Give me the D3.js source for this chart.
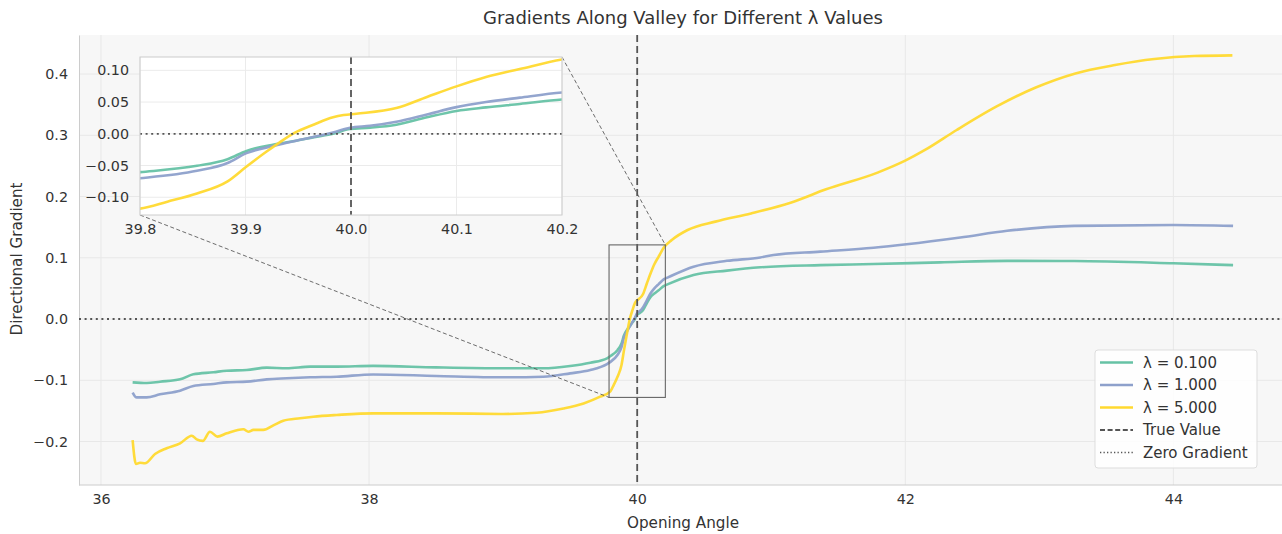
<!DOCTYPE html>
<html><head><meta charset="utf-8">
<script src="https://cdn.jsdelivr.net/npm/d3@7/dist/d3.min.js"></script>
<style>
body{margin:0;background:#fff;}
text{font-family:"DejaVu Sans",sans-serif;fill:#333;}
</style>
</head><body>
<svg id="c" width="1282" height="534"></svg>
<script>
// ---------- data ----------
const angles01 = [36.236,36.341,36.44,36.59,36.689,36.838,36.938,37.087,37.237,37.386,37.56,37.759,38.03,38.5,39.0,39.3,39.5,39.65,39.775,39.8,39.854,39.883,39.901,39.927,39.949,39.965,39.983,39.999,40.018,40.043,40.072,40.1,40.128,40.16,40.2,40.23,40.42,40.669,40.918,41.366,41.763,42.26,42.76,43.26,44.0,44.445];
const grad01 = [-0.1034,-0.1045,-0.1023,-0.0985,-0.0903,-0.087,-0.0844,-0.0833,-0.0794,-0.0805,-0.0778,-0.0778,-0.0765,-0.079,-0.0805,-0.0805,-0.0767,-0.0713,-0.0642,-0.0605,-0.0505,-0.040,-0.027,-0.0168,-0.0105,-0.0053,0.0,0.0074,0.0095,0.0142,0.026,0.036,0.0416,0.047,0.054,0.057,0.0718,0.079,0.0844,0.088,0.0898,0.0925,0.095,0.0947,0.091,0.088];

const angles1 = [36.236,36.266,36.341,36.44,36.59,36.689,36.838,36.938,37.087,37.237,37.386,37.56,37.759,38.03,38.5,39.0,39.3,39.5,39.65,39.775,39.8,39.854,39.883,39.901,39.927,39.949,39.983,39.999,40.018,40.043,40.072,40.1,40.128,40.16,40.2,40.23,40.42,40.669,40.918,41.017,41.366,41.763,42.01,42.41,42.76,43.26,44.0,44.445];
const grad1 = [-0.120,-0.128,-0.128,-0.123,-0.117,-0.1094,-0.106,-0.1034,-0.1023,-0.0985,-0.0968,-0.0952,-0.0942,-0.0905,-0.093,-0.0952,-0.0942,-0.0887,-0.0833,-0.0735,-0.070,-0.0584,-0.046,-0.0305,-0.019,-0.0105,0.002,0.0095,0.0126,0.019,0.0305,0.042,0.050,0.057,0.065,0.068,0.0854,0.095,0.1005,0.1045,0.110,0.1164,0.122,0.133,0.144,0.152,0.1535,0.152];

const angles5 = [36.236,36.261,36.291,36.328,36.403,36.49,36.59,36.677,36.714,36.759,36.813,36.868,36.938,37.062,37.1,37.137,37.211,37.286,37.36,37.485,37.584,37.759,38.03,38.5,39.0,39.25,39.45,39.6,39.724,39.8,39.826,39.854,39.883,39.901,39.92,39.93,39.946,39.965,39.983,39.993,40.005,40.043,40.072,40.1,40.128,40.16,40.2,40.258,40.376,40.583,40.849,41.144,41.409,41.793,41.999,42.147,42.383,42.678,42.973,43.269,43.564,43.858,44.154,44.44];
const grad5 = [-0.1976,-0.2367,-0.2346,-0.2356,-0.2204,-0.211,-0.203,-0.1905,-0.1964,-0.199,-0.184,-0.192,-0.1866,-0.180,-0.184,-0.181,-0.181,-0.1737,-0.166,-0.162,-0.1595,-0.1567,-0.154,-0.154,-0.155,-0.153,-0.146,-0.1378,-0.1268,-0.118,-0.107,-0.094,-0.075,-0.0516,-0.028,-0.0163,0.001,0.0147,0.026,0.0295,0.0316,0.0405,0.058,0.0747,0.0895,0.102,0.117,0.129,0.1453,0.159,0.1724,0.190,0.2117,0.239,0.2585,0.276,0.3086,0.3467,0.378,0.401,0.4147,0.4245,0.4294,0.4305];

const seriesLabels = ["λ = 0.100", "λ = 1.000", "λ = 5.000"];
const seriesColors = ["#66c2a5", "#8da0cb", "#ffd92f"];
const refLabels = ["True Value", "Zero Gradient"];
const trueValue = 40;

const xTicks = [36, 38, 40, 42, 44];
const yTicks = [-0.2, -0.1, 0.0, 0.1, 0.2, 0.3, 0.4];
const insetXTicks = [39.8, 39.9, 40.0, 40.1, 40.2];
const insetYTicks = [-0.10, -0.05, 0.00, 0.05, 0.10];

const mainXDomain = [35.836, 44.81];
const mainYDomain = [-0.271, 0.4637];
const insetXDomain = [39.8, 40.2];
const insetYDomain = [-0.128, 0.121];
const zoomBoxX = [39.79, 40.21];

// ---------- build ----------
const series = [
  {label: seriesLabels[0], color: seriesColors[0], pts: angles01.map((a,i)=>[a, grad01[i]])},
  {label: seriesLabels[1], color: seriesColors[1], pts: angles1.map((a,i)=>[a, grad1[i]])},
  {label: seriesLabels[2], color: seriesColors[2], pts: angles5.map((a,i)=>[a, grad5[i]])}
];

const TICK_FS = 14.3, LAB_FS = 15.2, LEG_FS = 15, TITLE_FS = 18;

const svg = d3.select("#c");
const M = {l: 79, r: 1282, t: 35, b: 485};
const x = d3.scaleLinear().domain(mainXDomain).range([M.l, M.r]);
const y = d3.scaleLinear().domain(mainYDomain).range([M.b, M.t]);
const fmtMinus = s => s.replace("-", "\u2212");

// background
svg.append("rect").attr("x", M.l).attr("y", M.t).attr("width", M.r - M.l).attr("height", M.b - M.t).attr("fill", "#f7f7f7");

// grid
svg.append("g").selectAll("line").data(xTicks).join("line")
  .attr("x1", d=>x(d)).attr("x2", d=>x(d)).attr("y1", M.t).attr("y2", M.b)
  .attr("stroke", "#e8e8e8").attr("stroke-width", 1);
svg.append("g").selectAll("line").data(yTicks).join("line")
  .attr("x1", M.l).attr("x2", M.r).attr("y1", d=>y(d)).attr("y2", d=>y(d))
  .attr("stroke", "#e8e8e8").attr("stroke-width", 1);

// axes
const xAxis = svg.append("g").attr("transform", `translate(0,${M.b})`)
  .call(d3.axisBottom(x).tickValues(xTicks).tickSize(0).tickPadding(9).tickFormat(d3.format("d")));
const yAxis = svg.append("g").attr("transform", `translate(${M.l},0)`)
  .call(d3.axisLeft(y).tickValues(yTicks).tickSize(0).tickPadding(11).tickFormat(d=>fmtMinus(d3.format(".1f")(d))));
[xAxis, yAxis].forEach(g=>{
  g.select(".domain").attr("stroke", "#cccccc").attr("stroke-width", 1);
  g.selectAll("text").attr("font-size", TICK_FS).attr("fill", "#333").attr("font-family", "DejaVu Sans");
});
xAxis.select(".domain").attr("d", `M${M.l},0H${M.r}`);

// lines
const line = d3.line().curve(d3.curveMonotoneX).x(d=>x(d[0])).y(d=>y(d[1]));
svg.append("g").selectAll("path").data(series).join("path")
  .attr("d", d=>line(d.pts)).attr("fill", "none").attr("stroke", d=>d.color)
  .attr("stroke-width", 2.6).attr("stroke-linejoin", "round").attr("stroke-linecap", "butt").attr("opacity", 0.95);

// reference lines
svg.append("line").attr("x1", x(trueValue)).attr("x2", x(trueValue)).attr("y1", M.t).attr("y2", M.b)
  .attr("stroke", "#555").attr("stroke-width", 1.8).attr("stroke-dasharray", "7,4");
svg.append("line").attr("x1", M.l).attr("x2", M.r).attr("y1", y(0)).attr("y2", y(0))
  .attr("stroke", "#555").attr("stroke-width", 1.8).attr("stroke-dasharray", "2,3.6");

// zoom box indicator
const bx0 = x(zoomBoxX[0]), bx1 = x(zoomBoxX[1]), by0 = y(insetYDomain[1]), by1 = y(insetYDomain[0]);
svg.append("rect").attr("x", bx0).attr("y", by0).attr("width", bx1 - bx0).attr("height", by1 - by0)
  .attr("fill", "none").attr("stroke", "#666").attr("stroke-width", 1.1);

// inset
const I = {l: 140, r: 562, t: 57, b: 215};
const ix = d3.scaleLinear().domain(insetXDomain).range([I.l, I.r]);
const iy = d3.scaleLinear().domain(insetYDomain).range([I.b, I.t]);

// connectors
svg.append("line").attr("x1", I.r).attr("y1", I.t).attr("x2", bx1).attr("y2", by0)
  .attr("stroke", "#555").attr("stroke-width", 1).attr("stroke-dasharray", "4,2.5").attr("opacity", 0.85);
svg.append("line").attr("x1", I.l).attr("y1", I.b).attr("x2", bx0).attr("y2", by1)
  .attr("stroke", "#555").attr("stroke-width", 1).attr("stroke-dasharray", "4,2.5").attr("opacity", 0.85);

const ig = svg.append("g");
ig.append("rect").attr("x", I.l).attr("y", I.t).attr("width", I.r - I.l).attr("height", I.b - I.t).attr("fill", "#ffffff");
svg.append("clipPath").attr("id", "iclip").append("rect")
  .attr("x", I.l).attr("y", I.t).attr("width", I.r - I.l).attr("height", I.b - I.t);
ig.append("g").selectAll("line").data(insetXTicks).join("line")
  .attr("x1", d=>ix(d)).attr("x2", d=>ix(d)).attr("y1", I.t).attr("y2", I.b)
  .attr("stroke", "#ebebeb").attr("stroke-width", 1);
ig.append("g").selectAll("line").data(insetYTicks).join("line")
  .attr("x1", I.l).attr("x2", I.r).attr("y1", d=>iy(d)).attr("y2", d=>iy(d))
  .attr("stroke", "#ebebeb").attr("stroke-width", 1);
const iline = d3.line().curve(d3.curveMonotoneX).x(d=>ix(d[0])).y(d=>iy(d[1]));
const ic = ig.append("g").attr("clip-path", "url(#iclip)");
ic.selectAll("path").data(series).join("path")
  .attr("d", d=>iline(d.pts)).attr("fill", "none").attr("stroke", d=>d.color)
  .attr("stroke-width", 2.6).attr("stroke-linejoin", "round").attr("opacity", 0.95);
ic.append("line").attr("x1", ix(trueValue)).attr("x2", ix(trueValue)).attr("y1", I.t).attr("y2", I.b)
  .attr("stroke", "#555").attr("stroke-width", 1.8).attr("stroke-dasharray", "7,4");
ic.append("line").attr("x1", I.l).attr("x2", I.r).attr("y1", iy(0)).attr("y2", iy(0))
  .attr("stroke", "#555").attr("stroke-width", 1.8).attr("stroke-dasharray", "2,3.6");
ig.append("rect").attr("x", I.l).attr("y", I.t).attr("width", I.r - I.l).attr("height", I.b - I.t)
  .attr("fill", "none").attr("stroke", "#cccccc").attr("stroke-width", 1);
const ixAxis = ig.append("g").attr("transform", `translate(0,${I.b})`)
  .call(d3.axisBottom(ix).tickValues(insetXTicks).tickSize(0).tickPadding(9).tickFormat(d3.format(".1f")));
const iyAxis = ig.append("g").attr("transform", `translate(${I.l},0)`)
  .call(d3.axisLeft(iy).tickValues(insetYTicks).tickSize(0).tickPadding(11).tickFormat(d=>fmtMinus(d3.format(".2f")(d))));
[ixAxis, iyAxis].forEach(g=>{
  g.select(".domain").remove();
  g.selectAll("text").attr("font-size", TICK_FS).attr("fill", "#333").attr("font-family", "DejaVu Sans");
});

// titles
svg.append("text").attr("x", 683).attr("y", 24).attr("text-anchor", "middle")
  .attr("font-size", TITLE_FS).attr("fill", "#222").text("Gradients Along Valley for Different λ Values");
svg.append("text").attr("x", 683).attr("y", 528).attr("text-anchor", "middle")
  .attr("font-size", LAB_FS).attr("fill", "#333").text("Opening Angle");
svg.append("text").attr("transform", "translate(22,259) rotate(-90)").attr("text-anchor", "middle")
  .attr("font-size", LAB_FS).attr("fill", "#333").text("Directional Gradient");

// legend
const L = {x: 1095, y: 350, w: 162, h: 118};
const lg = svg.append("g");
lg.append("rect").attr("x", L.x).attr("y", L.y).attr("width", L.w).attr("height", L.h)
  .attr("rx", 3).attr("fill", "#ffffff").attr("fill-opacity", 0.85).attr("stroke", "#dddddd");
const legendItems = [
  ...series.map(s=>({label: s.label, color: s.color, dash: null, w: 2.6})),
  {label: refLabels[0], color: "#555", dash: "5,2.6", w: 1.8},
  {label: refLabels[1], color: "#555", dash: "1.3,2.2", w: 1.3}
];
const li = lg.selectAll("g").data(legendItems).join("g")
  .attr("transform", (d,i)=>`translate(${L.x},${L.y + 12.5 + i*22.5})`);
li.append("line").attr("x1", 5).attr("x2", 38).attr("y1", 0).attr("y2", 0)
  .attr("stroke", d=>d.color).attr("stroke-width", d=>d.w).attr("stroke-dasharray", d=>d.dash);
li.append("text").attr("x", 48).attr("y", 5.3).attr("font-size", LEG_FS).attr("fill", "#333").text(d=>d.label);
</script>
</body></html>
